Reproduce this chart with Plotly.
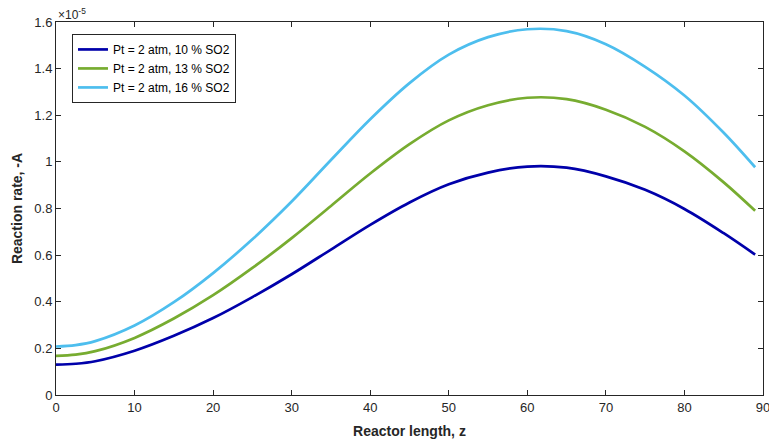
import plotly.graph_objects as go

# Reactor length (z)
z = [0, 2.5, 5, 10, 15, 20, 25, 30, 35, 40, 45, 50, 55, 60, 65, 70, 75, 80, 85, 89]

# Reaction rate, -rA (in units of 1e-5)
rate_10 = [0.130, 0.134, 0.145, 0.190, 0.254, 0.330, 0.420, 0.518, 0.624, 0.730, 0.826,
           0.904, 0.954, 0.980, 0.975, 0.938, 0.880, 0.798, 0.694, 0.602]
rate_13 = [0.168, 0.173, 0.188, 0.245, 0.328, 0.428, 0.545, 0.673, 0.811, 0.950, 1.076,
           1.178, 1.243, 1.275, 1.269, 1.224, 1.150, 1.045, 0.912, 0.790]
rate_16 = [0.208, 0.214, 0.231, 0.298, 0.398, 0.523, 0.668, 0.830, 1.008, 1.183, 1.338,
           1.460, 1.535, 1.569, 1.561, 1.505, 1.408, 1.285, 1.125, 0.977]

series_names = ["Pt = 2 atm, 10 % SO2", "Pt = 2 atm, 13 % SO2", "Pt = 2 atm, 16 % SO2"]
series_colors = ["#0000AA", "#77AC30", "#4DBEEE"]

x_ticks = [0, 10, 20, 30, 40, 50, 60, 70, 80, 90]
y_ticks = [0, 0.2, 0.4, 0.6, 0.8, 1.0, 1.2, 1.4, 1.6]
y_tick_labels = ["0", "0.2", "0.4", "0.6", "0.8", "1", "1.2", "1.4", "1.6"]

fig = go.Figure()
for ys, name, col in zip([rate_10, rate_13, rate_16], series_names, series_colors):
    fig.add_trace(go.Scatter(x=z, y=ys, mode="lines", name=name,
                             line=dict(color=col, width=2.7, shape="spline", smoothing=1.0)))

axis_color = "#262626"
fig.update_layout(
    width=769, height=443,
    margin=dict(l=56, r=6, t=22, b=48),
    paper_bgcolor="white", plot_bgcolor="white",
    font=dict(family="Liberation Sans, Arial, sans-serif", size=12, color=axis_color),
    showlegend=True,
    legend=dict(x=0.0226, y=0.968, xanchor="left", yanchor="top",
                bgcolor="white", bordercolor=axis_color, borderwidth=1,
                font=dict(size=12, color="#000000"),
                tracegroupgap=0, itemwidth=30),
)
fig.update_xaxes(
    range=[0, 90], tickvals=x_ticks, ticks="inside", ticklen=5, tickcolor=axis_color,
    showline=True, linecolor=axis_color, linewidth=1, mirror="ticks",
    showgrid=False, zeroline=False, ticklabeloverflow="allow", automargin=False,
    tickfont=dict(size=13, color=axis_color),
    title=dict(text="<b>Reactor length, z</b>", font=dict(size=14, color=axis_color), standoff=12),
)
fig.update_yaxes(
    range=[0, 1.6], tickvals=y_ticks, ticktext=y_tick_labels, ticks="inside", ticklen=5,
    tickcolor=axis_color, automargin=False,
    showline=True, linecolor=axis_color, linewidth=1, mirror="ticks",
    showgrid=False, zeroline=False,
    tickfont=dict(size=13, color=axis_color),
    title=dict(text="<b>Reaction rate, -A</b>", font=dict(size=14, color=axis_color), standoff=8),
)
fig.add_annotation(text="×10<sup>-5</sup>", xref="paper", yref="paper", x=0, y=1.0,
                   xanchor="left", yanchor="bottom", showarrow=False,
                   font=dict(size=12, color=axis_color), yshift=-2)

fig.write_html("out.html")
